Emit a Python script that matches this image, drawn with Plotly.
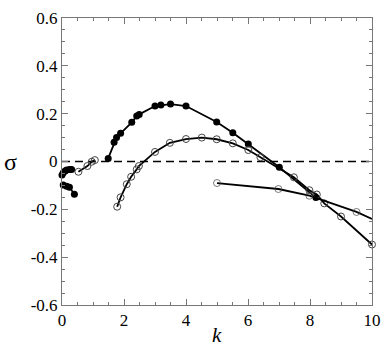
import plotly.graph_objects as go

# filled branch near k=0 (upper and lower pieces)
k_f1 = [0.0, 0.04, 0.1, 0.15, 0.24, 0.31]
s_f1 = [-0.056, -0.047, -0.040, -0.036, -0.033, -0.033]
k_f2 = [0.04, 0.15, 0.24, 0.4]
s_f2 = [-0.098, -0.103, -0.108, -0.137]

# open branch near k=1
k_o1 = [0.53, 0.82, 0.96, 1.06]
s_o1 = [-0.043, -0.019, -0.001, 0.006]

# filled main arch
k_fa = [1.49, 1.68, 1.76, 1.89, 2.25, 2.41, 2.49, 3.0, 3.19, 3.5, 4.0, 4.99, 5.51, 6.01, 7.01, 8.19]
s_fa = [0.013, 0.08, 0.1, 0.118, 0.164, 0.19, 0.197, 0.232, 0.236, 0.24, 0.232, 0.165, 0.12, 0.073, -0.024, -0.151]

# open arch
k_oa = [1.78, 1.89, 2.09, 2.23, 2.41, 2.48, 3.0, 3.48, 4.0, 4.51, 4.99, 5.51, 6.01, 6.4, 7.48, 7.98, 8.22, 8.46, 9.0, 10.0]
s_oa = [-0.189, -0.15, -0.095, -0.064, -0.033, -0.019, 0.04, 0.078, 0.094, 0.1, 0.093, 0.076, 0.048, 0.018, -0.066, -0.12, -0.138, -0.175, -0.23, -0.347]

# open branch starting at k=5
k_oc = [5.0, 6.98, 7.98, 9.5, 10.0]
s_oc = [-0.09, -0.115, -0.143, -0.211, -0.24]

y_ticks = [-0.6, -0.4, -0.2, 0, 0.2, 0.4, 0.6]
y_labels = ["-0.6", "-0.4", "-0.2", "0", "0.2", "0.4", "0.6"]
x_ticks = [0, 2, 4, 6, 8, 10]

SERIF = "Liberation Serif, Times New Roman, serif"

fig = go.Figure()

# dashed zero line
fig.add_trace(go.Scatter(x=[0, 10], y=[0, 0], mode="lines",
                         line=dict(color="black", width=1.3, dash="8px,5px"),
                         hoverinfo="skip"))

filled = dict(symbol="circle", size=7, color="black")
hollow = dict(symbol="circle-open", size=7, color="#444", line=dict(width=1))
line = dict(color="black", width=1.8)

for kk, ss in [(k_f1, s_f1), (k_f2, s_f2), (k_fa, s_fa)]:
    fig.add_trace(go.Scatter(x=kk, y=ss, mode="lines+markers", line=line, marker=filled))

for kk, ss in [(k_o1, s_o1), (k_oa, s_oa)]:
    fig.add_trace(go.Scatter(x=kk, y=ss, mode="lines+markers", line=line, marker=hollow))

# last point of this branch has no symbol
fig.add_trace(go.Scatter(x=k_oc, y=s_oc, mode="lines+markers", line=line,
                         marker=dict(hollow, size=[7] * (len(k_oc) - 1) + [0])))

fig.update_traces(cliponaxis=False)

axis_common = dict(showgrid=False, zeroline=False, showline=True, linecolor="#777", linewidth=1,
                   ticks="inside", tickcolor="#777", ticklen=6, mirror="ticks", automargin=False,
                   tickfont=dict(family=SERIF, size=17, color="black"))

fig.update_xaxes(range=[0, 10], tickvals=x_ticks,
                 minor=dict(ticks="inside", ticklen=3, dtick=0.5, tickcolor="#777"),
                 **axis_common)
fig.update_yaxes(range=[-0.6, 0.6], tickvals=y_ticks, ticktext=y_labels,
                 minor=dict(ticks="inside", ticklen=3, dtick=0.05, tickcolor="#777"),
                 **axis_common)

fig.add_annotation(text="<i>k</i>", xref="paper", yref="paper", x=0.5, y=0, yshift=-30,
                   showarrow=False, yanchor="middle",
                   font=dict(family=SERIF, size=21, color="black"))
fig.add_annotation(text="σ", xref="paper", yref="paper", x=0, y=0.5, xshift=-52,
                   showarrow=False, xanchor="center",
                   font=dict(family=SERIF, size=24, color="black"))

fig.update_layout(width=392, height=349, showlegend=False,
                  plot_bgcolor="white", paper_bgcolor="white",
                  font=dict(family=SERIF),
                  margin=dict(l=62, r=20, t=18, b=44))

# page has default body margin, drop it so the figure sits at the corner
fig.write_html("out.html", config={"displayModeBar": False},
               post_script="document.body.style.margin='0';")
